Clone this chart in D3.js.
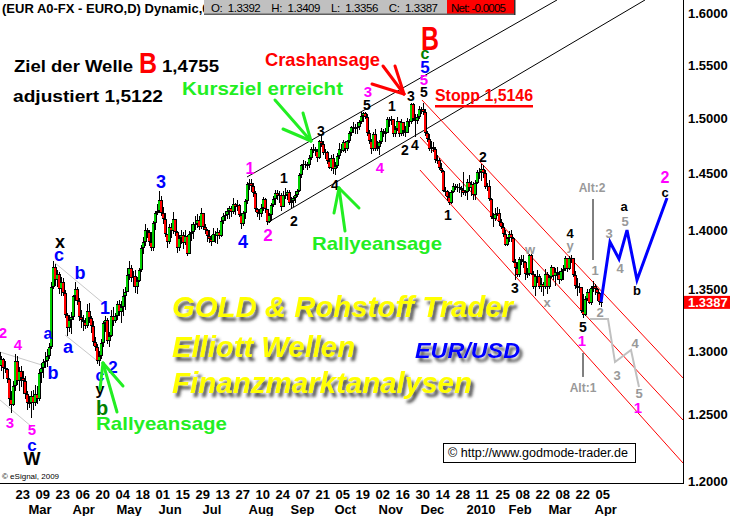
<!DOCTYPE html>
<html><head><meta charset="utf-8">
<script src="https://cdn.jsdelivr.net/npm/d3@7"></script>
<style>
body{margin:0;background:#fff;}
svg{display:block;font-family:"Liberation Sans",Arial,sans-serif;}
</style></head><body>
<svg id="c" width="730" height="516"></svg>
<script>
// ---------------- DATA (daily EUR/USD, 10 Feb 2009 .. 7 Apr 2010) ----------------
const firstDate = "2009-02-10";
const prevClose = 1.2990; // open of first bar (open = previous close)
const highs = [
1.3000,1.2960,1.2940,1.2920,
1.2860,1.2780,1.2680,1.2760,1.2970,
1.2960,1.2870,1.2880,1.2840,1.2800,
1.2680,1.2640,1.2680,1.2690,1.2730,
1.2720,1.2850,1.2900,1.2930,1.2990,
1.3010,1.3060,1.3560,1.3738,1.3710,
1.3660,1.3640,1.3600,1.3590,1.3490,
1.3300,1.3290,1.3310,1.3450,1.3560,
1.3520,1.3430,1.3330,1.3290,1.3260,
1.3380,1.3390,1.3280,1.3240,1.3110,
1.3050,1.3000,1.3090,1.3240,1.3280,
1.3260,1.3150,1.3330,1.3350,1.3300,
1.3400,1.3410,1.3400,1.3500,1.3520,
1.3680,1.3740,1.3700,1.3650,1.3660,
1.3600,1.3680,1.3870,1.3940,1.4050,
1.4020,1.4000,1.3980,1.4080,1.4170,
1.4230,1.4338,1.4300,1.4200,1.4150,
1.3970,1.4050,1.4060,1.4160,1.4100,
1.3990,1.3960,1.4000,1.3980,1.4000,
1.3960,1.3990,1.4050,1.4070,1.4120,
1.4140,1.4120,1.4190,1.4150,1.4050,
1.4010,1.4000,1.3960,1.4020,1.3990,
1.4020,1.4000,1.4110,1.4150,1.4170,
1.4190,1.4210,1.4210,1.4280,1.4240,
1.4260,1.4230,1.4150,1.4170,1.4270,
1.4420,1.4445,1.4450,1.4410,1.4340,
1.4190,1.4180,1.4230,1.4290,1.4280,
1.4180,1.4150,1.4240,1.4300,1.4350,
1.4350,1.4340,1.4320,1.4340,1.4370,
1.4350,1.4350,1.4290,1.4300,1.4340,
1.4360,1.4500,1.4580,1.4620,1.4610,
1.4600,1.4660,1.4740,1.4760,1.4740,
1.4720,1.4800,1.4843,1.4790,1.4720,
1.4700,1.4640,1.4660,1.4670,1.4600,
1.4680,1.4770,1.4760,1.4800,1.4790,
1.4800,1.4880,1.4930,1.4960,1.4950,
1.4960,1.4980,1.5061,1.5060,1.5060,
1.5040,1.4890,1.4810,1.4870,1.4900,
1.4790,1.4800,1.4910,1.4900,1.4910,
1.5010,1.5010,1.5020,1.4990,1.4930,
1.5010,1.4970,1.4990,1.4960,1.4930,
1.5000,1.4990,1.5144,1.5140,1.5040,
1.5040,1.5110,1.5100,1.5140,1.5080,
1.4880,1.4850,1.4790,1.4780,1.4740,
1.4660,1.4640,1.4590,1.4530,1.4380,
1.4350,1.4330,1.4350,1.4410,1.4400,
1.4400,1.4410,1.4390,1.4510,1.4350,
1.4450,1.4480,1.4430,1.4420,1.4440,
1.4530,1.4550,1.4579,1.4570,1.4530,
1.4410,1.4440,1.4280,1.4150,1.4190,
1.4200,1.4180,1.4100,1.4060,1.4000,
1.3940,1.3990,1.4000,1.3940,1.3750,
1.3730,1.3770,1.3790,1.3790,1.3740,
1.3680,1.3800,1.3800,1.3650,1.3630,
1.3660,1.3630,1.3590,1.3560,1.3670,
1.3640,1.3620,1.3700,1.3690,1.3680,
1.3690,1.3650,1.3680,1.3700,1.3780,
1.3760,1.3780,1.3790,1.3760,1.3650,
1.3590,1.3550,1.3520,1.3460,1.3440,
1.3500,1.3500,1.3530,1.3570,1.3540,
1.3510,1.3480,1.3409];
const lows = [
1.2860,1.2840,1.2770,1.2820,
1.2740,1.2560,1.2510,1.2560,1.2680,
1.2730,1.2680,1.2710,1.2660,1.2620,
1.2530,1.2550,1.2470,1.2530,1.2560,
1.2580,1.2600,1.2740,1.2780,1.2860,
1.2870,1.2930,1.3010,1.3500,1.3530,
1.3520,1.3460,1.3440,1.3440,1.3260,
1.3120,1.3150,1.3130,1.3250,1.3400,
1.3370,1.3240,1.3180,1.3160,1.3170,
1.3180,1.3220,1.3140,1.3040,1.3000,
1.2890,1.2880,1.2930,1.3030,1.3150,
1.3050,1.3030,1.3110,1.3200,1.3220,
1.3250,1.3280,1.3220,1.3280,1.3330,
1.3500,1.3580,1.3560,1.3520,1.3470,
1.3460,1.3560,1.3640,1.3800,1.3860,
1.3930,1.3860,1.3820,1.3820,1.4000,
1.4130,1.4150,1.4120,1.4050,1.3940,
1.3850,1.3880,1.3930,1.3970,1.3950,
1.3805,1.3820,1.3880,1.3840,1.3870,
1.3780,1.3800,1.3910,1.3920,1.4000,
1.4020,1.4000,1.4010,1.4000,1.3970,
1.3900,1.3890,1.3860,1.3900,1.3890,
1.3880,1.3920,1.3940,1.4050,1.4080,
1.4100,1.4100,1.4110,1.4140,1.4130,
1.4170,1.4110,1.4010,1.4040,1.4100,
1.4230,1.4350,1.4330,1.4290,1.4160,
1.4110,1.4090,1.4110,1.4170,1.4150,
1.4045,1.4060,1.4080,1.4200,1.4220,
1.4260,1.4240,1.4170,1.4200,1.4270,
1.4260,1.4220,1.4190,1.4200,1.4240,
1.4290,1.4330,1.4460,1.4530,1.4550,
1.4530,1.4550,1.4620,1.4680,1.4650,
1.4600,1.4630,1.4740,1.4660,1.4630,
1.4580,1.4540,1.4520,1.4490,1.4480,
1.4550,1.4630,1.4680,1.4690,1.4680,
1.4700,1.4770,1.4840,1.4860,1.4850,
1.4850,1.4890,1.4950,1.4960,1.4990,
1.4840,1.4760,1.4670,1.4700,1.4700,
1.4700,1.4660,1.4760,1.4830,1.4780,
1.4860,1.4920,1.4940,1.4830,1.4830,
1.4880,1.4830,1.4840,1.4840,1.4830,
1.4860,1.4920,1.4950,1.4970,1.4830,
1.4950,1.4990,1.5040,1.5030,1.4840,
1.4780,1.4700,1.4680,1.4690,1.4590,
1.4580,1.4530,1.4500,1.4330,1.4300,
1.4250,1.4220,1.4230,1.4320,1.4350,
1.4330,1.4320,1.4290,1.4310,1.4300,
1.4260,1.4340,1.4300,1.4260,1.4260,
1.4400,1.4450,1.4430,1.4460,1.4360,
1.4340,1.4250,1.4100,1.4030,1.4080,
1.4120,1.4040,1.4010,1.3940,1.3860,
1.3860,1.3900,1.3900,1.3720,1.3580,
1.3600,1.3600,1.3700,1.3680,1.3580,
1.3590,1.3610,1.3620,1.3500,1.3440,
1.3550,1.3500,1.3480,1.3440,1.3500,
1.3460,1.3500,1.3590,1.3580,1.3530,
1.3580,1.3540,1.3570,1.3580,1.3650,
1.3640,1.3660,1.3720,1.3600,1.3500,
1.3440,1.3470,1.3300,1.3266,1.3280,
1.3400,1.3380,1.3370,1.3480,1.3450,
1.3400,1.3370,1.3356];
const closes = [
1.2880,1.2930,1.2860,1.2850,
1.2770,1.2620,1.2570,1.2720,1.2920,
1.2760,1.2840,1.2780,1.2760,1.2660,
1.2590,1.2590,1.2640,1.2590,1.2660,
1.2620,1.2820,1.2860,1.2910,1.2920,
1.2960,1.3030,1.3520,1.3690,1.3580,
1.3630,1.3500,1.3560,1.3470,1.3290,
1.3180,1.3250,1.3270,1.3440,1.3500,
1.3400,1.3270,1.3250,1.3230,1.3200,
1.3320,1.3260,1.3200,1.3070,1.3030,
1.2920,1.2960,1.3060,1.3220,1.3250,
1.3080,1.3120,1.3280,1.3240,1.3280,
1.3380,1.3310,1.3350,1.3440,1.3480,
1.3620,1.3680,1.3590,1.3610,1.3520,
1.3570,1.3660,1.3850,1.3900,1.4000,
1.3980,1.3900,1.3850,1.4060,1.4150,
1.4170,1.4260,1.4150,1.4100,1.3970,
1.3900,1.4030,1.3990,1.4100,1.3980,
1.3850,1.3930,1.3960,1.3890,1.3950,
1.3800,1.3970,1.3980,1.4050,1.4050,
1.4090,1.4030,1.4150,1.4030,1.4000,
1.3950,1.3920,1.3900,1.3970,1.3950,
1.3980,1.3950,1.4080,1.4120,1.4130,
1.4170,1.4190,1.4160,1.4230,1.4200,
1.4220,1.4130,1.4050,1.4150,1.4250,
1.4400,1.4410,1.4390,1.4320,1.4180,
1.4150,1.4140,1.4190,1.4270,1.4180,
1.4070,1.4130,1.4220,1.4270,1.4320,
1.4300,1.4310,1.4200,1.4310,1.4310,
1.4330,1.4240,1.4250,1.4280,1.4310,
1.4340,1.4480,1.4570,1.4580,1.4570,
1.4570,1.4640,1.4720,1.4720,1.4700,
1.4640,1.4790,1.4760,1.4680,1.4690,
1.4610,1.4550,1.4640,1.4540,1.4560,
1.4650,1.4720,1.4700,1.4780,1.4720,
1.4790,1.4860,1.4920,1.4910,1.4910,
1.4920,1.4960,1.5020,1.5050,1.5010,
1.4860,1.4790,1.4720,1.4850,1.4720,
1.4740,1.4780,1.4880,1.4860,1.4860,
1.4990,1.4970,1.4990,1.4850,1.4900,
1.4970,1.4850,1.4960,1.4880,1.4860,
1.4970,1.4960,1.5130,1.4990,1.4970,
1.5010,1.5080,1.5080,1.5060,1.4860,
1.4810,1.4720,1.4740,1.4720,1.4620,
1.4620,1.4550,1.4520,1.4340,1.4340,
1.4290,1.4240,1.4330,1.4390,1.4370,
1.4380,1.4370,1.4350,1.4320,1.4330,
1.4420,1.4370,1.4400,1.4310,1.4410,
1.4510,1.4510,1.4540,1.4500,1.4380,
1.4390,1.4270,1.4110,1.4100,1.4140,
1.4150,1.4070,1.4030,1.3970,1.3870,
1.3930,1.3970,1.3930,1.3730,1.3680,
1.3620,1.3750,1.3740,1.3730,1.3630,
1.3630,1.3790,1.3630,1.3520,1.3610,
1.3610,1.3520,1.3540,1.3520,1.3630,
1.3520,1.3600,1.3690,1.3610,1.3640,
1.3630,1.3580,1.3650,1.3670,1.3760,
1.3670,1.3760,1.3760,1.3620,1.3530,
1.3510,1.3520,1.3320,1.3290,1.3420,
1.3480,1.3390,1.3510,1.3530,1.3500,
1.3470,1.3392,1.3387];

const yTicks = [1.20,1.25,1.30,1.35,1.40,1.45,1.50,1.55,1.60];
const xTickDates = ["2009-02-23","2009-03-09","2009-03-23","2009-04-06","2009-04-20","2009-05-04","2009-05-18","2009-06-01","2009-06-15","2009-06-29","2009-07-13","2009-07-27","2009-08-10","2009-08-24","2009-09-07","2009-09-21","2009-10-05","2009-10-19","2009-11-02","2009-11-16","2009-11-30","2009-12-14","2009-12-28","2010-01-11","2010-01-25","2010-02-08","2010-02-22","2010-03-08","2010-03-22","2010-04-05"];
const xTickLabels = ["23","09","23","06","20","04","18","01","15","29","13","27","10","24","07","21","05","19","02","16","30","14","28","11","25","08","22","08","22","05"];
const monthDates = ["2009-03-02","2009-04-01","2009-05-01","2009-06-01","2009-07-01","2009-08-03","2009-09-01","2009-10-01","2009-11-02","2009-12-01","2010-01-01","2010-02-01","2010-03-01","2010-04-01"];
const monthLabels = ["Mar","Apr","May","Jun","Jul","Aug","Sep","Oct","Nov","Dec","2010","Feb","Mar","Apr"];

const quote = {O:"1.3392",H:"1.3409",L:"1.3356",C:"1.3387",Net:"-0.0005"};
const lastPrice = 1.3387;

// trend / channel lines in data space: [barIndex, price]
const blackChannel = [[[124,1.4466],[279,1.6132]], [[134,1.4062],[323,1.6132]]];
const redChannel = [[[211.5,1.5168],[342,1.2782]], [[210.5,1.4827],[342,1.2455]], [[210.5,1.4528],[342,1.2130]]];
const grayLines = [[[0.5,1.2988],[21.5,1.2884]], [[0.5,1.2610],[16.5,1.2402]], [[28,1.3720],[52,1.3386]], [[33,1.3125],[50.5,1.2900]]];
const altMarkers = [[[297,1.4271],[297,1.3745]], [[292,1.2980],[292,1.2790]]];
const projMain = [[301,1.3394],[305.5,1.3898],[310,1.3754],[314,1.4001],[319,1.3577],[334,1.4280]];
const projAlt = [[295.5,1.3255],[304.5,1.3255],[308,1.2908],[316,1.3004],[320,1.2711]];

// ---------------- SETUP ----------------
const N = closes.length;
const svg = d3.select("#c");
svg.append("rect").attr("width",730).attr("height",516).attr("fill","#fff");
const x = d3.scaleLinear().domain([0, N-1]).range([-1, 601]);
const y = d3.scaleLog().domain([1.2, 1.6]).range([480.5, 13.3]);

const dates = [];
{ let t = Date.UTC(2009,1,10);
  while (dates.length < N) { const dd = new Date(t); const wd = dd.getUTCDay();
    if (wd !== 0 && wd !== 6) dates.push(dd.toISOString().slice(0,10)); t += 86400000; } }
const idx = new Map(dates.map((s,i)=>[s,i]));

const defs = svg.append("defs");
defs.append("clipPath").attr("id","plot").append("rect").attr("x",0).attr("y",0).attr("width",683).attr("height",483);
defs.append("clipPath").attr("id","hdr").append("rect").attr("x",0).attr("y",0).attr("width",204).attr("height",20);
const f = defs.append("filter").attr("id","shadow").attr("x","-10%").attr("y","-40%").attr("width","125%").attr("height","190%");
f.append("feGaussianBlur").attr("in","SourceAlpha").attr("stdDeviation",1.8).attr("result","b");
f.append("feOffset").attr("in","b").attr("dx",3).attr("dy",3.5).attr("result","o");
f.append("feFlood").attr("flood-color","#444").attr("flood-opacity",0.9).attr("result","fc");
f.append("feComposite").attr("in","fc").attr("in2","o").attr("operator","in").attr("result","s");
const fm = f.append("feMerge"); fm.append("feMergeNode").attr("in","s"); fm.append("feMergeNode").attr("in","SourceGraphic");

const plot = svg.append("g").attr("clip-path","url(#plot)");
const line = d3.line().x(d=>x(d[0])).y(d=>y(d[1]));

grayLines.forEach(l=>plot.append("path").attr("d",line(l)).attr("stroke","#c8c8c8").attr("stroke-width",1).attr("fill","none"));
blackChannel.forEach(l=>plot.append("path").attr("d",line(l)).attr("stroke","#000").attr("stroke-width",1).attr("fill","none"));
redChannel.forEach(l=>plot.append("path").attr("d",line(l)).attr("stroke","#ff0000").attr("stroke-width",1).attr("fill","none"));

// candles: black wick + black outline, coloured 2px body
const cg = plot.append("g").attr("shape-rendering","crispEdges");
closes.forEach((c,i)=>{
  const o = i===0 ? prevClose : closes[i-1];
  const cx = Math.round(x(i));
  const yH = Math.round(y(highs[i])), yL = Math.round(y(lows[i]));
  const yO = Math.round(y(o)), yC = Math.round(y(c));
  const top = Math.min(yO,yC), bot = Math.max(yO,yC);
  cg.append("rect").attr("x",cx).attr("y",yH).attr("width",1).attr("height",Math.max(1,yL-yH)).attr("fill","#000");
  cg.append("rect").attr("x",cx-1).attr("y",top).attr("width",3).attr("height",Math.max(1,bot-top)).attr("fill","#000");
  if (bot-top > 2) cg.append("rect").attr("x",cx-1).attr("y",top+1).attr("width",2).attr("height",bot-top-2).attr("fill", c>=o ? "#00d000" : "#ff0000");
});

altMarkers.forEach(l=>plot.append("path").attr("d",line(l)).attr("stroke","#000").attr("stroke-width",1).attr("fill","none"));
plot.append("path").attr("d",line(projAlt)).attr("stroke","#c0c0c0").attr("stroke-width",2).attr("fill","none");
plot.append("path").attr("d",line(projMain)).attr("stroke","#0000ff").attr("stroke-width",3).attr("fill","none");

// ---------------- ANNOTATIONS (layout) ----------------
const M="#ff00ff", Bl="#0000ff", K="#000", G="#999999", DG="#008000";
const waveLabels = [
["2",3,333,M,15],["4",18,345,M,15],["3",10,423,M,15],["5",32,430,M,15],["c",32,446,Bl,17],["W",32,459,K,18],
["x",60,243,K,18],["c",59,256,Bl,18],["b",80,273,Bl,18],["a",48,335,Bl,16],["b",53,373,Bl,18],["a",68,348,Bl,18],["1",105,308,Bl,18],["2",113,367,Bl,17],["c",100,377,Bl,16],["y",100,391,K,16],["b",102,408,DG,20],
["3",161,182,Bl,18],["4",243,242,Bl,18],["1",250,168,M,16],["2",268,235,M,17],["1",284,178,K,14],["2",294,221,K,14],["3",321,131,K,14],["4",335,185,K,14],["3",368,92,M,15],["5",367,105,K,14],["4",380,168,M,15],["1",392,106,K,14],["2",405,150,K,14],["4",415,145,K,14],["3",411,96,K,14],["5",424,92,K,14],["5",424,80,M,15],["5",425,67,Bl,17],["c",425,55,DG,16],
["1",448,215,K,14],["2",483,157,K,14],["3",515,288,K,14],["w",530,250,G,13],["x",547,303,G,13],["4",570,233,K,13],["y",570,246,G,13],["5",583,327,K,14],["1",582,341,M,15],["Alt:1",583,388,G,12],["Alt:2",592,188,G,12],["1",595,270,G,13],["2",600,312,G,13],["3",609,233,G,13],["5",625,221,G,13],["a",624,207,K,13],["4",620,268,G,13],["b",637,290,K,13],["2",665,177,M,16],["c",665,193,K,13],["3",617,375,G,13],["4",635,343,G,13],["5",639,393,G,13],["1",638,408,M,15]
];
const ann = svg.append("g").attr("font-weight","bold");
waveLabels.forEach(([t,cx,cy,col,sz])=>{
  const low = /^[acxwy]$/.test(t);
  ann.append("text").attr("x",cx).attr("y",cy + sz*(low?0.27:0.36)).attr("text-anchor","middle")
    .attr("font-size",sz).attr("fill",col).text(t);
});

function txt(s,x0,base,size,col,len){
  const e = svg.append("text").attr("x",x0).attr("y",base).attr("font-size",size).attr("fill",col).attr("font-weight","bold").text(s);
  if (len) e.attr("textLength",len).attr("lengthAdjust","spacingAndGlyphs");
  return e;
}
txt("B",421,50,33,"#ff0000",18);
txt("Ziel der Welle",14,72,16,"#000",119);
txt("B",139,73,29,"#ff0000",18);
txt("1,4755",162,72,16,"#000",57);
txt("adjustiert 1,5122",13,102,16,"#000",150);
txt("Crashansage",265,66,19,"#ff0000",115);
txt("Kursziel erreicht",182,95,19,"#22ee22",161);
txt("Rallyeansage",312,250,19,"#22ee22",130);
txt("Rallyeansage",96,430,19,"#22ee22",131);
txt("Stopp 1,5146",435,101,16,"#ff0000",98);
svg.append("rect").attr("x",435).attr("y",105).attr("width",98).attr("height",2.5).attr("fill","#ff0000");

const arrows = [
 {c:"#22ee22", segs:[[[275,100],[311,141]],[[283,129],[311,141]],[[303,113],[311,141]]]},
 {c:"#22ee22", segs:[[[345,231],[339,188]],[[359,208],[339,188]],[[334,213],[339,188]]]},
 {c:"#22ee22", segs:[[[117,412],[103,363]],[[123,386],[103,363]],[[100,389],[103,363]]]},
 {c:"#ff0000", segs:[[[383,66],[404,94]],[[372,84],[404,94]],[[395,66],[404,94]]]}
];
arrows.forEach(a=>a.segs.forEach(s=>svg.append("line").attr("x1",s[0][0]).attr("y1",s[0][1]).attr("x2",s[1][0]).attr("y2",s[1][1])
  .attr("stroke",a.c).attr("stroke-width",3).attr("stroke-linecap","round")));

// logo text with blurred drop shadow
const logo = [["GOLD & Rohstoff Trader",172,317,29,341,"#ffff00"],["Elliott Wellen",172,357,29,183,"#ffff00"],["Finanzmarktanalysen",172,393,29,300,"#ffff00"],["EUR/USD",415,358,22,105,"#0000ff"]];
logo.forEach(([s,x0,b,sz,len,col])=>{
  svg.append("text").attr("x",x0).attr("y",b).attr("font-size",sz).attr("font-style","italic").attr("font-weight","bold")
    .attr("fill",col).attr("filter","url(#shadow)").attr("textLength",len).attr("lengthAdjust","spacingAndGlyphs").text(s);
});

// copyright
svg.append("rect").attr("x",443.5).attr("y",443.5).attr("width",192).attr("height",19).attr("fill","#fff").attr("stroke","#000");
svg.append("text").attr("x",448).attr("y",457).attr("font-size",12).attr("fill","#000").attr("textLength",180).attr("lengthAdjust","spacingAndGlyphs").text("\u00A9 http://www.godmode-trader.de");
svg.append("text").attr("x",2).attr("y",479).attr("font-size",8).attr("fill","#000").text("\u00A9 eSignal, 2009");

// header
svg.append("text").attr("x",2).attr("y",12.5).attr("font-size",13).attr("font-weight","bold").attr("clip-path","url(#hdr)").text("(EUR A0-FX - EURO,D) Dynamic,0");
svg.append("rect").attr("x",204).attr("y",0).attr("width",243).attr("height",14).attr("fill","#c0c0c0");
svg.append("rect").attr("x",447).attr("y",0).attr("width",67).attr("height",14).attr("fill","#ff0000");
svg.append("rect").attr("x",204).attr("y",13.5).attr("width",311).attr("height",1.5).attr("fill","#606060");
svg.append("rect").attr("x",514).attr("y",0).attr("width",1.5).attr("height",15).attr("fill","#303030");
svg.append("text").attr("x",211).attr("y",11.5).attr("font-size",11.5).attr("fill","#000").attr("style","white-space:pre")
  .attr("textLength",227).attr("lengthAdjust","spacing")
  .text(`O:  ${quote.O}    H:  ${quote.H}    L:  ${quote.L}    C:  ${quote.C}`);
svg.append("text").attr("x",451).attr("y",11.5).attr("font-size",11.5).attr("fill","#000").attr("textLength",55).text("Net: "+quote.Net);

// axes
const axFont = "Liberation Sans, Arial, sans-serif";
const gy = svg.append("g").attr("transform","translate(683,0)")
  .call(d3.axisRight(y).tickValues(yTicks).tickFormat(d3.format(".4f")).tickSize(0).tickPadding(5));
gy.select(".domain").remove();
gy.selectAll("text").attr("font-size",13).attr("font-weight","bold").attr("font-family",axFont).attr("fill","#000").attr("dy","0.36em");

const gx = svg.append("g").attr("transform","translate(0,484)")
  .call(d3.axisBottom(x).tickValues(xTickDates.map(s=>idx.get(s))).tickFormat((v,i)=>xTickLabels[i]).tickSize(0));
gx.select(".domain").remove();
gx.selectAll("text").attr("text-anchor","start").attr("dx",-2).attr("y",15).attr("dy",0)
  .attr("font-size",13).attr("font-weight","bold").attr("font-family",axFont).attr("fill","#000");
const gm = svg.append("g").attr("transform","translate(0,484)")
  .call(d3.axisBottom(x).tickValues(monthDates.map(s=>idx.get(s))).tickFormat((v,i)=>monthLabels[i]).tickSize(0));
gm.select(".domain").remove();
gm.selectAll("text").attr("text-anchor","start").attr("dx",1).attr("y",30).attr("dy",0)
  .attr("font-size",13).attr("font-weight","bold").attr("font-family",axFont).attr("fill","#000");

// frame
svg.append("line").attr("x1",683.5).attr("x2",683.5).attr("y1",0).attr("y2",484).attr("stroke","#000");
svg.append("line").attr("x1",0).attr("x2",684).attr("y1",483.5).attr("y2",483.5).attr("stroke","#000");

// last price marker
const yl = y(lastPrice);
svg.append("rect").attr("x",684).attr("y",yl-7).attr("width",46).attr("height",13).attr("fill","#ff0000");
svg.append("text").attr("x",688).attr("y",yl+4.5).attr("font-size",13).attr("font-weight","bold").attr("font-family",axFont).attr("fill","#fff").text(d3.format(".4f")(lastPrice));
</script></body></html>
